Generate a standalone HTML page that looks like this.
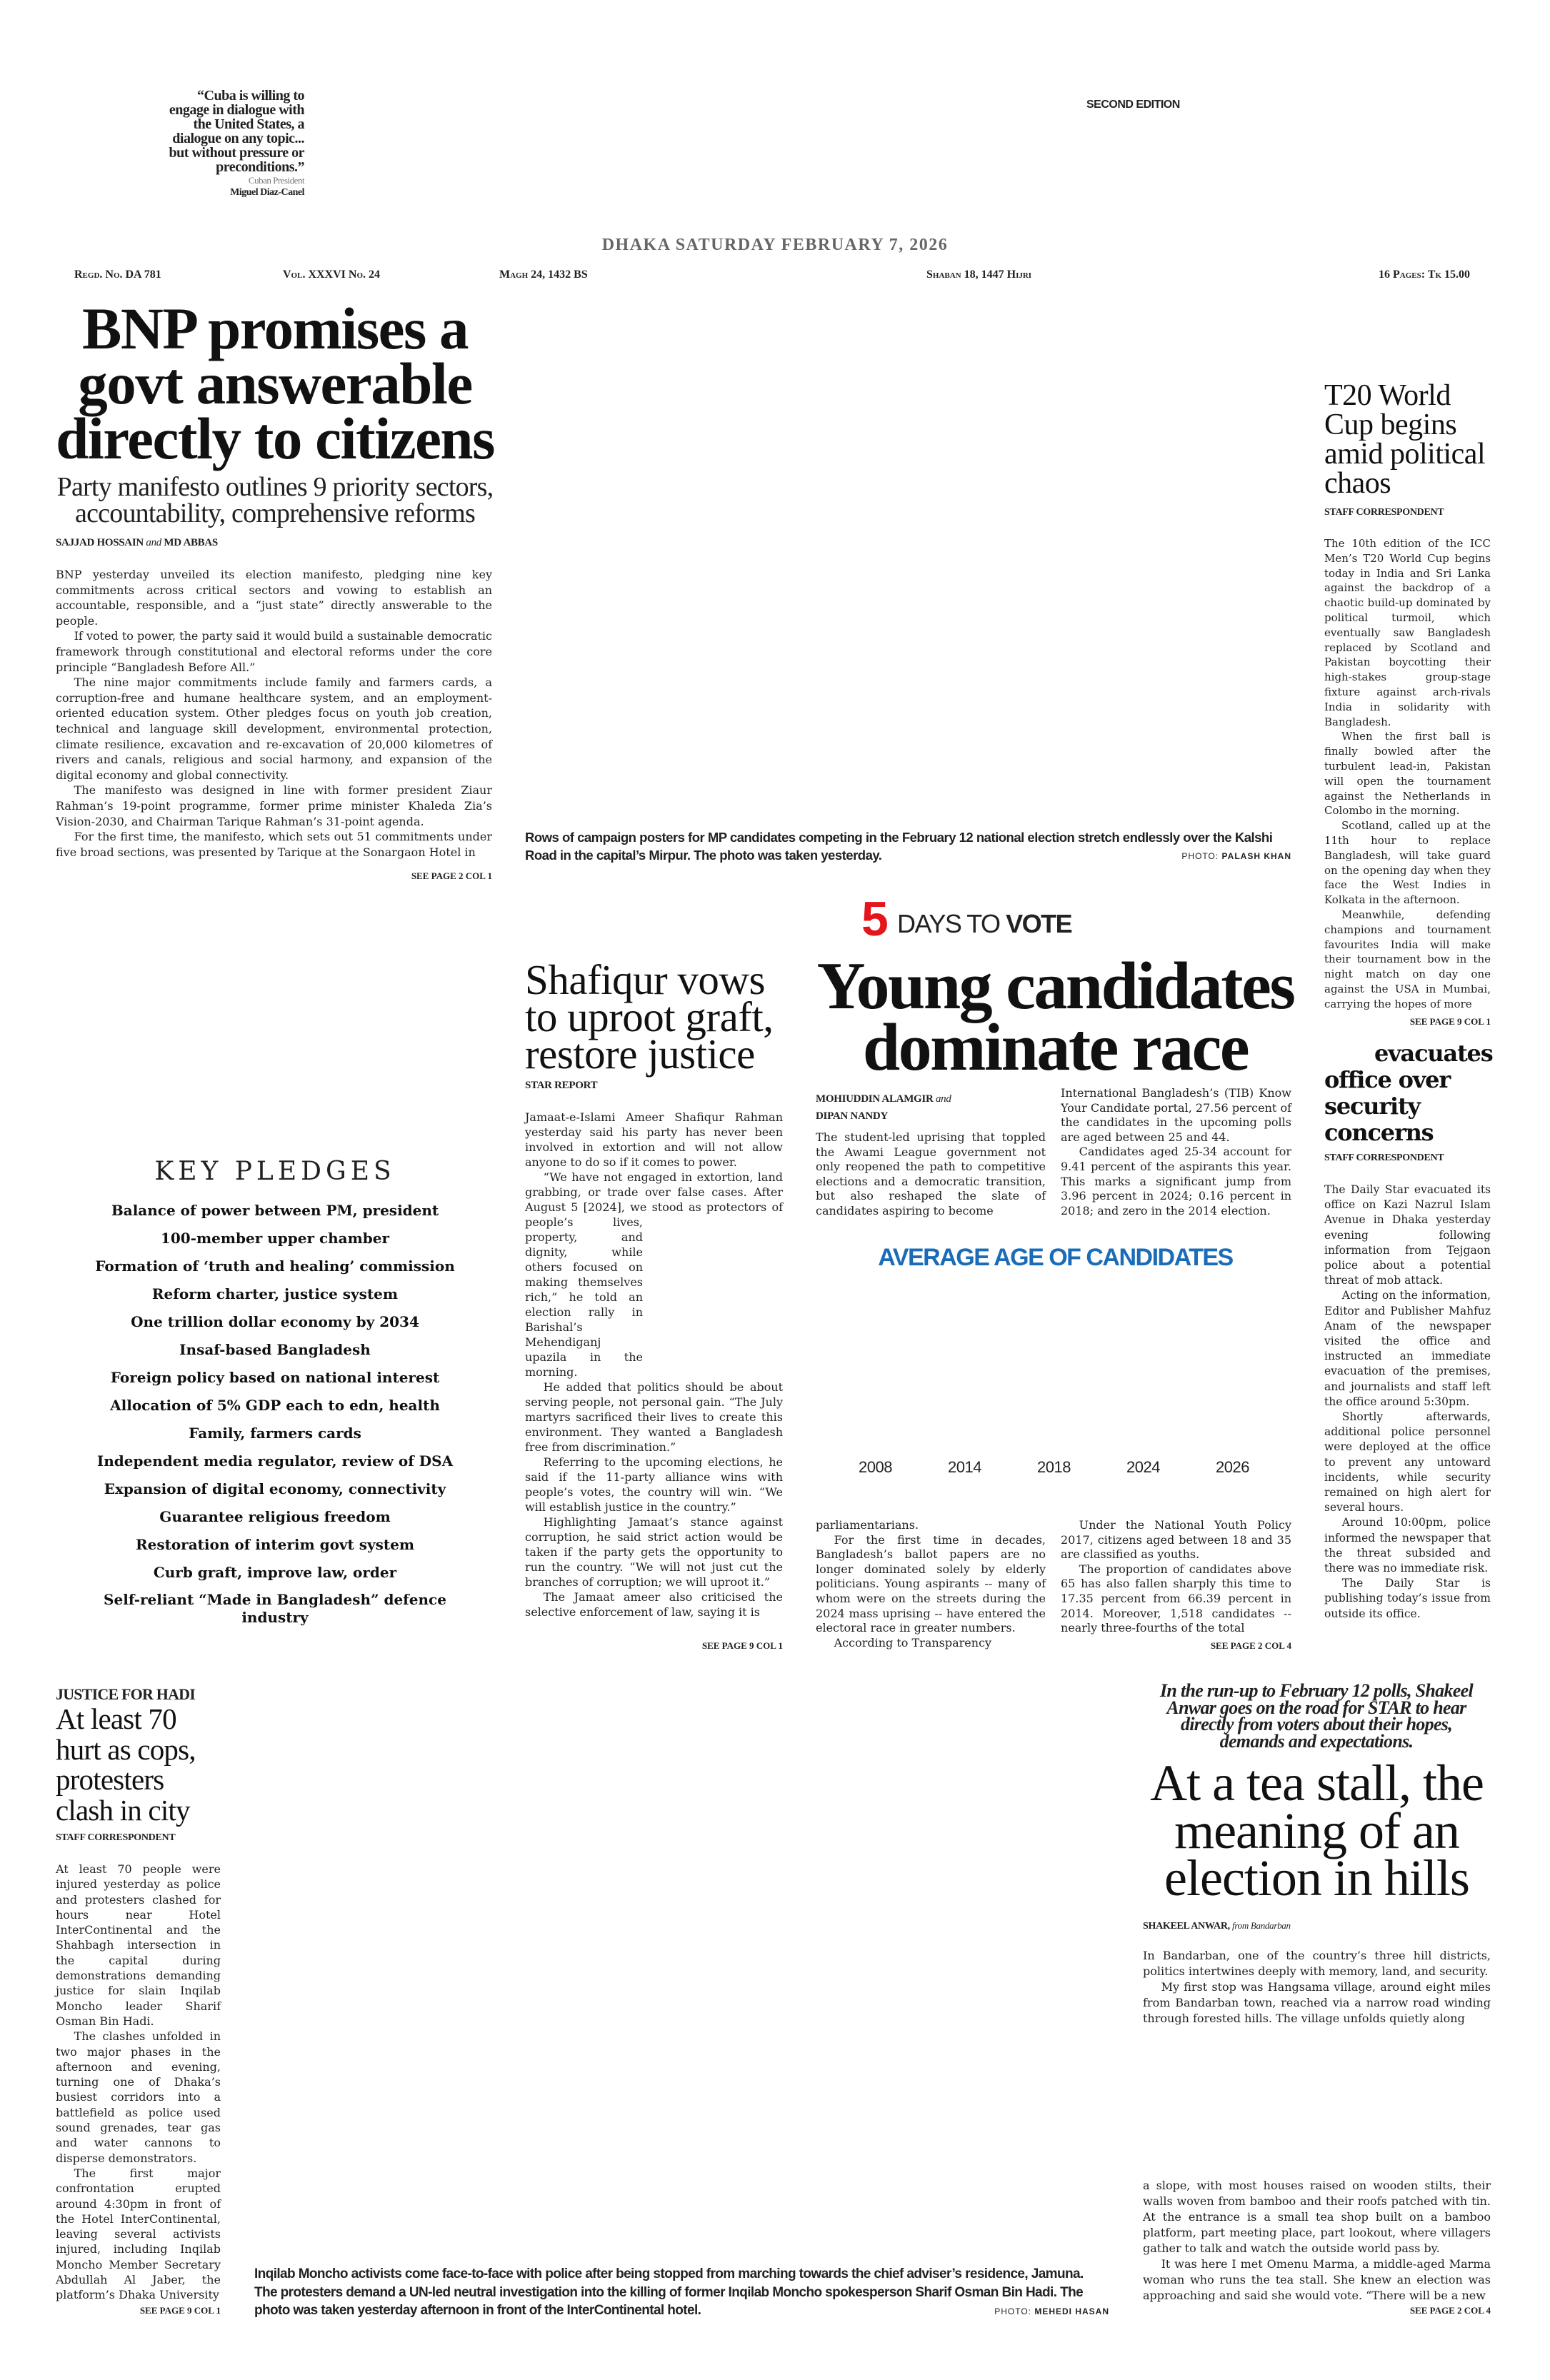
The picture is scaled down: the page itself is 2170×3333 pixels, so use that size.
<!DOCTYPE html>
<html><head><meta charset="utf-8">
<style>
*{margin:0;padding:0;box-sizing:border-box}
body{width:2170px;height:3333px;background:#fff;position:relative;overflow:hidden;font-family:"Liberation Serif",serif;color:#222}
.a{position:absolute}
.j{text-align:justify;font-family:"DejaVu Serif",serif}
.j p{text-indent:1.6em}
.j p.f{text-indent:0}
.bl{font-weight:bold;font-size:15px;letter-spacing:-0.3px}
.sans{font-family:"Liberation Sans",sans-serif}
.sp{font-weight:bold;font-size:13px;text-align:right}
</style></head><body>

<div class="a" style="left:206px;top:124px;width:220px;text-align:right;font-size:20px;line-height:20px;font-weight:bold;letter-spacing:-0.5px;padding-left:14px">“Cuba is willing to engage in dialogue with the United States, a dialogue on any topic... but without pressure or preconditions.”<div style="font-weight:normal;font-size:13px;color:#777;line-height:18px">Cuban President</div><div style="font-size:14px;line-height:16px">Miguel Diaz-Canel</div></div>

<div class="a sans" style="left:1521px;top:138px;font-size:16px;font-weight:bold;letter-spacing:-0.5px">SECOND EDITION</div>

<div class="a" style="left:0;width:2170px;top:330px;text-align:center;font-size:24px;color:#666;letter-spacing:1.5px;font-weight:bold">DHAKA SATURDAY FEBRUARY 7, 2026</div>

<div class="a" style="top:376px;left:0;width:2170px;font-size:16px;font-weight:bold;font-variant:small-caps">
<span class="a" style="left:104px">Regd. No. DA 781</span>
<span class="a" style="left:396px">Vol. XXXVI No. 24</span>
<span class="a" style="left:699px">Magh 24, 1432 BS</span>
<span class="a" style="left:1297px">Shaban 18, 1447 Hijri</span>
<span class="a" style="right:112px;white-space:nowrap">16 Pages: Tk 15.00</span>
</div>

<div class="a" style="left:40px;width:690px;top:422px;text-align:center;font-size:83px;line-height:77px;font-weight:bold;letter-spacing:-1.5px;color:#111">BNP promises a<br>govt answerable<br>directly to citizens</div>
<div class="a" style="left:40px;width:690px;top:664px;text-align:center;font-size:38px;line-height:37px;letter-spacing:-0.8px">Party manifesto outlines 9 priority sectors,<br>accountability, comprehensive reforms</div>
<div class="a bl" style="left:78px;top:752px">SAJJAD HOSSAIN <i style="font-weight:normal">and</i> MD ABBAS</div>
<div class="a j" style="left:78px;top:794px;width:611px;font-size:16px;line-height:21.6px">
<p class="f">BNP yesterday unveiled its election manifesto, pledging nine key commitments across critical sectors and vowing to establish an accountable, responsible, and a “just state” directly answerable to the people.</p>
<p>If voted to power, the party said it would build a sustainable democratic framework through constitutional and electoral reforms under the core principle “Bangladesh Before All.”</p>
<p>The nine major commitments include family and farmers cards, a corruption-free and humane healthcare system, and an employment-oriented education system. Other pledges focus on youth job creation, technical and language skill development, environmental protection, climate resilience, excavation and re-excavation of 20,000 kilometres of rivers and canals, religious and social harmony, and expansion of the digital economy and global connectivity.</p>
<p>The manifesto was designed in line with former president Ziaur Rahman’s 19-point programme, former prime minister Khaleda Zia’s Vision-2030, and Chairman Tarique Rahman’s 31-point agenda.</p>
<p>For the first time, the manifesto, which sets out 51 commitments under five broad sections, was presented by Tarique at the Sonargaon Hotel in</p></div>
<div class="a sp" style="left:400px;width:289px;top:1219px">SEE PAGE 2 COL 1</div>

<div class="a sans" style="left:735px;top:1160px;width:1080px;font-size:18.5px;line-height:25px;font-weight:bold;letter-spacing:-0.5px">Rows of campaign posters for MP candidates competing in the February 12 national election stretch endlessly over the Kalshi Road in the capital’s Mirpur. The photo was taken yesterday.</div>
<div class="a sans" style="left:1600px;width:208px;top:1192px;text-align:right;font-size:12px;letter-spacing:1px">PHOTO: <b>PALASH KHAN</b></div>

<div class="a sans" style="left:1206px;top:1252px;font-size:68px;line-height:70px;font-weight:bold;color:#e4161b;letter-spacing:-3px">5</div>
<div class="a sans" style="left:1256px;top:1272px;font-size:36px;line-height:44px;letter-spacing:-1.5px;color:#222">DAYS TO <b>VOTE</b></div>
<div class="a" style="left:1100px;width:755px;top:1338px;text-align:center;font-size:94px;line-height:86px;font-weight:bold;letter-spacing:-2.5px;color:#111">Young candidates<br>dominate race</div>
<div class="a bl" style="left:1142px;top:1527px;line-height:24px">MOHIUDDIN ALAMGIR <i style="font-weight:normal">and</i><br>DIPAN NANDY</div>
<div class="a j" style="left:1142px;top:1583px;width:322px;font-size:16px;line-height:20.6px">The student-led uprising that toppled the Awami League government not only reopened the path to competitive elections and a democratic transition, but also reshaped the slate of candidates aspiring to become</div>
<div class="a j" style="left:1485px;top:1521px;width:323px;font-size:16px;line-height:20.6px"><p class="f">International Bangladesh’s (TIB) Know Your Candidate portal, 27.56 percent of the candidates in the upcoming polls are aged between 25 and 44.</p><p>Candidates aged 25-34 account for 9.41 percent of the aspirants this year. This marks a significant jump from 3.96 percent in 2024; 0.16 percent in 2018; and zero in the 2014 election.</p></div>
<div class="a sans" style="left:1120px;width:715px;top:1742px;text-align:center;font-size:34px;font-weight:bold;color:#1a6cb8;letter-spacing:-1.5px">AVERAGE AGE OF CANDIDATES</div>
<div class="a sans" style="top:2042px;left:0;font-size:22px;letter-spacing:-0.5px">
<span class="a" style="left:1202px">2008</span><span class="a" style="left:1327px">2014</span><span class="a" style="left:1452px">2018</span><span class="a" style="left:1577px">2024</span><span class="a" style="left:1702px">2026</span></div>
<div class="a j" style="left:1142px;top:2126px;width:322px;font-size:16px;line-height:20.6px"><p class="f">parliamentarians.</p><p>For the first time in decades, Bangladesh’s ballot papers are no longer dominated solely by elderly politicians. Young aspirants -- many of whom were on the streets during the 2024 mass uprising -- have entered the electoral race in greater numbers.</p><p>According to Transparency</p></div>
<div class="a j" style="left:1485px;top:2126px;width:323px;font-size:16px;line-height:20.6px"><p>Under the National Youth Policy 2017, citizens aged between 18 and 35 are classified as youths.</p><p>The proportion of candidates above 65 has also fallen sharply this time to 17.35 percent from 66.39 percent in 2014. Moreover, 1,518 candidates -- nearly three-fourths of the total</p></div>
<div class="a sp" style="left:1600px;width:208px;top:2297px">SEE PAGE 2 COL 4</div>

<div class="a" style="left:735px;top:1346px;font-size:59px;line-height:52px;letter-spacing:-0.5px;color:#111">Shafiqur vows<br>to uproot graft,<br>restore justice</div>
<div class="a bl" style="left:735px;top:1512px">STAR REPORT</div>
<div class="a j" style="left:735px;top:1554px;width:361px;font-size:16px;line-height:21px">
<div style="float:right;width:0;height:147px"></div>
<div style="float:right;clear:right;width:196px;height:231px"></div>
<p class="f">Jamaat-e-Islami Ameer Shafiqur Rahman yesterday said his party has never been involved in extortion and will not allow anyone to do so if it comes to power.</p>
<p>“We have not engaged in extortion, land grabbing, or trade over false cases. After August 5 [2024], we stood as protectors of people’s lives, property, and dignity, while others focused on making themselves rich,” he told an election rally in Barishal’s Mehendiganj upazila in the morning.</p>
<p>He added that politics should be about serving people, not personal gain. “The July martyrs sacrificed their lives to create this environment. They wanted a Bangladesh free from discrimination.”</p>
<p>Referring to the upcoming elections, he said if the 11-party alliance wins with people’s votes, the country will win. “We will establish justice in the country.”</p>
<p>Highlighting Jamaat’s stance against corruption, he said strict action would be taken if the party gets the opportunity to run the country. “We will not just cut the branches of corruption; we will uproot it.”</p>
<p>The Jamaat ameer also criticised the selective enforcement of law, saying it is</p></div>
<div class="a sp" style="left:900px;width:196px;top:2297px">SEE PAGE 9 COL 1</div>

<div class="a" style="left:40px;width:690px;top:1620px;text-align:center;font-family:'DejaVu Serif',serif;font-size:36px;letter-spacing:6px;color:#222">KEY PLEDGES</div>
<div class="a" style="left:40px;width:690px;top:1676px;text-align:center;font-family:'DejaVu Serif',serif;font-size:20px;line-height:39px;font-weight:bold;color:#111">
Balance of power between PM, president<br>100-member upper chamber<br>Formation of ‘truth and healing’ commission<br>Reform charter, justice system<br>One trillion dollar economy by 2034<br>Insaf-based Bangladesh<br>Foreign policy based on national interest<br>Allocation of 5% GDP each to edn, health<br>Family, farmers cards<br>Independent media regulator, review of DSA<br>Expansion of digital economy, connectivity<br>Guarantee religious freedom<br>Restoration of interim govt system<br>Curb graft, improve law, order<br><span style="display:inline-block;line-height:25px;padding-top:6px">Self-reliant “Made in Bangladesh” defence<br>industry</span></div>

<div class="a" style="left:1854px;top:534px;font-size:42px;line-height:41px;letter-spacing:-0.5px;color:#111">T20 World<br>Cup begins<br>amid political<br>chaos</div>
<div class="a bl" style="left:1854px;top:710px;font-size:14px">STAFF CORRESPONDENT</div>
<div class="a j" style="left:1854px;top:751px;width:233px;font-size:15px;line-height:20.8px">
<p class="f">The 10th edition of the ICC Men’s T20 World Cup begins today in India and Sri Lanka against the backdrop of a chaotic build-up dominated by political turmoil, which eventually saw Bangladesh replaced by Scotland and Pakistan boycotting their high-stakes group-stage fixture against arch-rivals India in solidarity with Bangladesh.</p>
<p>When the first ball is finally bowled after the turbulent lead-in, Pakistan will open the tournament against the Netherlands in Colombo in the morning.</p>
<p>Scotland, called up at the 11th hour to replace Bangladesh, will take guard on the opening day when they face the West Indies in Kolkata in the afternoon.</p>
<p>Meanwhile, defending champions and tournament favourites India will make their tournament bow in the night match on day one against the USA in Mumbai, carrying the hopes of more</p></div>
<div class="a sp" style="left:1880px;width:207px;top:1423px">SEE PAGE 9 COL 1</div>

<div class="a" style="left:1854px;top:1457px;font-family:'DejaVu Serif',serif;font-size:32px;line-height:37px;font-weight:bold;letter-spacing:-1.2px;color:#111"><span style="padding-left:70px">evacuates</span><br>office over<br>security<br>concerns</div>
<div class="a bl" style="left:1854px;top:1614px;font-size:14px">STAFF CORRESPONDENT</div>
<div class="a j" style="left:1854px;top:1656px;width:233px;font-size:15.5px;line-height:21.2px">
<p class="f">The Daily Star evacuated its office on Kazi Nazrul Islam Avenue in Dhaka yesterday evening following information from Tejgaon police about a potential threat of mob attack.</p>
<p>Acting on the information, Editor and Publisher Mahfuz Anam of the newspaper visited the office and instructed an immediate evacuation of the premises, and journalists and staff left the office around 5:30pm.</p>
<p>Shortly afterwards, additional police personnel were deployed at the office to prevent any untoward incidents, while security remained on high alert for several hours.</p>
<p>Around 10:00pm, police informed the newspaper that the threat subsided and there was no immediate risk.</p>
<p>The Daily Star is publishing today’s issue from outside its office.</p></div>

<div class="a bl" style="left:78px;top:2360px;font-size:22px;letter-spacing:-0.8px">JUSTICE FOR HADI</div>
<div class="a" style="left:78px;top:2386px;font-size:41px;line-height:42.5px;letter-spacing:-0.8px;color:#111">At least 70<br>hurt as cops,<br>protesters<br>clash in city</div>
<div class="a bl" style="left:78px;top:2566px;font-size:14px">STAFF CORRESPONDENT</div>
<div class="a j" style="left:78px;top:2607px;width:231px;font-size:16px;line-height:21.3px">
<p class="f">At least 70 people were injured yesterday as police and protesters clashed for hours near Hotel InterContinental and the Shahbagh intersection in the capital during demonstrations demanding justice for slain Inqilab Moncho leader Sharif Osman Bin Hadi.</p>
<p>The clashes unfolded in two major phases in the afternoon and evening, turning one of Dhaka’s busiest corridors into a battlefield as police used sound grenades, tear gas and water cannons to disperse demonstrators.</p>
<p>The first major confrontation erupted around 4:30pm in front of the Hotel InterContinental, leaving several activists injured, including Inqilab Moncho Member Secretary Abdullah Al Jaber, the platform’s Dhaka University</p></div>
<div class="a sp" style="left:100px;width:209px;top:3228px">SEE PAGE 9 COL 1</div>

<div class="a sans" style="left:356px;top:3172px;width:1175px;font-size:19px;line-height:25.5px;font-weight:bold;letter-spacing:-0.6px">Inqilab Moncho activists come face-to-face with police after being stopped from marching towards the chief adviser’s residence, Jamuna. The protesters demand a UN-led neutral investigation into the killing of former Inqilab Moncho spokesperson Sharif Osman Bin Hadi. The photo was taken yesterday afternoon in front of the InterContinental hotel.</div>
<div class="a sans" style="left:1350px;width:203px;top:3230px;text-align:right;font-size:12px;letter-spacing:1px">PHOTO: <b>MEHEDI HASAN</b></div>

<div class="a" style="left:1610px;width:466px;top:2356px;text-align:center;font-size:26px;line-height:23.5px;font-style:italic;font-weight:bold;letter-spacing:-0.7px">In the run-up to February 12 polls, Shakeel Anwar goes on the road for STAR to hear directly from voters about their hopes, demands and expectations.</div>
<div class="a" style="left:1570px;width:547px;top:2464px;text-align:center;font-size:72px;line-height:66.5px;letter-spacing:-1px;color:#111">At a tea stall, the<br>meaning of an<br>election in hills</div>
<div class="a bl" style="left:1600px;top:2689px;font-size:14px">SHAKEEL ANWAR, <i style="font-weight:normal;font-size:13px">from Bandarban</i></div>
<div class="a j" style="left:1600px;top:2728px;width:487px;font-size:16px;line-height:22px">
<p class="f">In Bandarban, one of the country’s three hill districts, politics intertwines deeply with memory, land, and security.</p>
<p>My first stop was Hangsama village, around eight miles from Bandarban town, reached via a narrow road winding through forested hills. The village unfolds quietly along</p></div>
<div class="a j" style="left:1600px;top:3050px;width:487px;font-size:16px;line-height:22px">
<p class="f">a slope, with most houses raised on wooden stilts, their walls woven from bamboo and their roofs patched with tin. At the entrance is a small tea shop built on a bamboo platform, part meeting place, part lookout, where villagers gather to talk and watch the outside world pass by.</p>
<p>It was here I met Omenu Marma, a middle-aged Marma woman who runs the tea stall. She knew an election was approaching and said she would vote. “There will be a new</p></div>
<div class="a sp" style="left:1880px;width:207px;top:3228px">SEE PAGE 2 COL 4</div>

</body></html>
